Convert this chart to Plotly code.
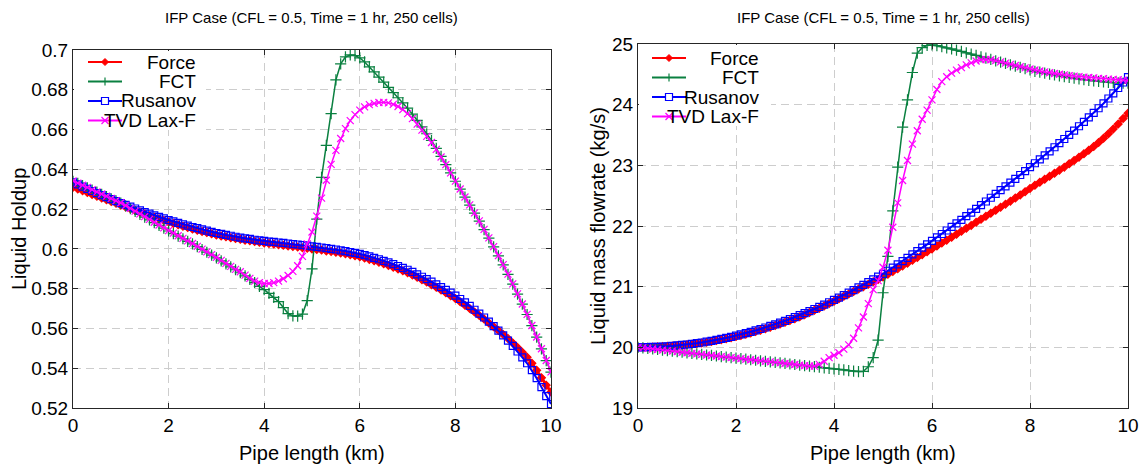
import plotly.graph_objects as go

# Pipe cell positions (km), 0.1 km spacing
x_km = [i / 10 for i in range(101)]

x_ticks = [0, 2, 4, 6, 8, 10]
hold_ticks = [0.52, 0.54, 0.56, 0.58, 0.60, 0.62, 0.64, 0.66, 0.68, 0.70]
hold_ticktext = ["0.52", "0.54", "0.56", "0.58", "0.6", "0.62", "0.64", "0.66", "0.68", "0.7"]
flow_ticks = [19, 20, 21, 22, 23, 24, 25]

series_names = ["Force", "FCT", "Rusanov", "TVD Lax-F"]

# ---- Liquid holdup (left panel) ----
hold_force = [
    0.6310, 0.6301, 0.6292, 0.6283, 0.6274, 0.6265, 0.6256, 0.6247, 0.6238, 0.6229,
    0.6220, 0.6211, 0.6202, 0.6193, 0.6184, 0.6175, 0.6167, 0.6159, 0.6151, 0.6143,
    0.6135, 0.6128, 0.6121, 0.6114, 0.6107, 0.6100, 0.6094, 0.6088, 0.6082, 0.6076,
    0.6070, 0.6065, 0.6061, 0.6056, 0.6052, 0.6048, 0.6044, 0.6041, 0.6037, 0.6034,
    0.6030, 0.6027, 0.6024, 0.6021, 0.6018, 0.6015, 0.6012, 0.6009, 0.6006, 0.6003,
    0.6000, 0.5997, 0.5994, 0.5990, 0.5987, 0.5983, 0.5979, 0.5975, 0.5970, 0.5965,
    0.5960, 0.5954, 0.5947, 0.5940, 0.5933, 0.5925, 0.5917, 0.5908, 0.5899, 0.5890,
    0.5880, 0.5869, 0.5857, 0.5845, 0.5833, 0.5820, 0.5807, 0.5793, 0.5779, 0.5765,
    0.5750, 0.5734, 0.5717, 0.5700, 0.5683, 0.5665, 0.5647, 0.5628, 0.5609, 0.5590,
    0.5570, 0.5549, 0.5527, 0.5504, 0.5480, 0.5455, 0.5425, 0.5390, 0.5352, 0.5315,
    0.5280,
]
hold_fct = [
    0.6340, 0.6329, 0.6318, 0.6307, 0.6296, 0.6285, 0.6274, 0.6263, 0.6252, 0.6241,
    0.6230, 0.6216, 0.6202, 0.6188, 0.6174, 0.6160, 0.6146, 0.6132, 0.6118, 0.6104,
    0.6090, 0.6077, 0.6064, 0.6051, 0.6038, 0.6025, 0.6011, 0.5997, 0.5983, 0.5969,
    0.5955, 0.5940, 0.5925, 0.5910, 0.5895, 0.5880, 0.5864, 0.5847, 0.5830, 0.5812,
    0.5795, 0.5776, 0.5756, 0.5735, 0.5705, 0.5675, 0.5663, 0.5662, 0.5672, 0.5740,
    0.5900, 0.6150, 0.6360, 0.6520, 0.6680, 0.6850, 0.6930, 0.6965, 0.6975, 0.6972,
    0.6960, 0.6940, 0.6915, 0.6890, 0.6864, 0.6838, 0.6812, 0.6786, 0.6760, 0.6734,
    0.6708, 0.6678, 0.6646, 0.6613, 0.6579, 0.6545, 0.6505, 0.6465, 0.6424, 0.6382,
    0.6340, 0.6300, 0.6260, 0.6220, 0.6180, 0.6140, 0.6097, 0.6054, 0.6010, 0.5965,
    0.5920, 0.5872, 0.5823, 0.5773, 0.5722, 0.5670, 0.5614, 0.5556, 0.5497, 0.5438,
    0.5380,
]
hold_rusanov = [
    0.6335, 0.6324, 0.6313, 0.6302, 0.6291, 0.6280, 0.6270, 0.6260, 0.6250, 0.6240,
    0.6230, 0.6221, 0.6212, 0.6203, 0.6194, 0.6185, 0.6177, 0.6169, 0.6161, 0.6153,
    0.6145, 0.6138, 0.6131, 0.6124, 0.6117, 0.6110, 0.6104, 0.6098, 0.6092, 0.6086,
    0.6080, 0.6075, 0.6070, 0.6066, 0.6061, 0.6057, 0.6053, 0.6050, 0.6046, 0.6043,
    0.6040, 0.6037, 0.6035, 0.6032, 0.6030, 0.6027, 0.6024, 0.6022, 0.6019, 0.6016,
    0.6013, 0.6010, 0.6007, 0.6004, 0.6000, 0.5997, 0.5993, 0.5989, 0.5984, 0.5980,
    0.5975, 0.5969, 0.5962, 0.5955, 0.5948, 0.5940, 0.5932, 0.5923, 0.5914, 0.5905,
    0.5895, 0.5884, 0.5872, 0.5860, 0.5848, 0.5835, 0.5822, 0.5808, 0.5794, 0.5780,
    0.5765, 0.5748, 0.5731, 0.5713, 0.5694, 0.5675, 0.5655, 0.5634, 0.5612, 0.5589,
    0.5565, 0.5539, 0.5512, 0.5484, 0.5455, 0.5425, 0.5390, 0.5350, 0.5305, 0.5260,
    0.5220,
]
hold_tvd = [
    0.6342, 0.6331, 0.6320, 0.6309, 0.6298, 0.6287, 0.6276, 0.6265, 0.6254, 0.6243,
    0.6232, 0.6218, 0.6204, 0.6190, 0.6176, 0.6162, 0.6148, 0.6134, 0.6120, 0.6106,
    0.6092, 0.6079, 0.6066, 0.6053, 0.6040, 0.6027, 0.6013, 0.5999, 0.5985, 0.5971,
    0.5957, 0.5942, 0.5927, 0.5912, 0.5897, 0.5885, 0.5868, 0.5852, 0.5838, 0.5830,
    0.5826, 0.5826, 0.5830, 0.5838, 0.5850, 0.5866, 0.5887, 0.5915, 0.5962, 0.6025,
    0.6085, 0.6165, 0.6255, 0.6345, 0.6425, 0.6495, 0.6555, 0.6605, 0.6645, 0.6675,
    0.6698, 0.6714, 0.6725, 0.6732, 0.6736, 0.6737, 0.6734, 0.6727, 0.6716, 0.6700,
    0.6680, 0.6655, 0.6627, 0.6597, 0.6566, 0.6535, 0.6500, 0.6462, 0.6424, 0.6382,
    0.6341, 0.6301, 0.6261, 0.6221, 0.6181, 0.6141, 0.6098, 0.6055, 0.6011, 0.5966,
    0.5921, 0.5873, 0.5824, 0.5774, 0.5723, 0.5671, 0.5615, 0.5557, 0.5498, 0.5439,
    0.5382,
]

# ---- Liquid mass flowrate (right panel) ----
flow_force = [
    20.000, 20.001, 20.003, 20.005, 20.008, 20.012, 20.016, 20.021, 20.028, 20.035,
    20.043, 20.052, 20.062, 20.073, 20.085, 20.098, 20.112, 20.127, 20.143, 20.160,
    20.178, 20.197, 20.217, 20.238, 20.260, 20.283, 20.307, 20.332, 20.358, 20.385,
    20.413, 20.442, 20.472, 20.503, 20.539, 20.575, 20.610, 20.646, 20.683, 20.721,
    20.760, 20.800, 20.840, 20.880, 20.920, 20.960, 21.000, 21.040, 21.080, 21.120,
    21.160, 21.205, 21.250, 21.296, 21.342, 21.388, 21.434, 21.481, 21.528, 21.575,
    21.622, 21.670, 21.718, 21.766, 21.814, 21.863, 21.912, 21.961, 22.010, 22.060,
    22.110, 22.160, 22.210, 22.260, 22.310, 22.360, 22.410, 22.460, 22.510, 22.565,
    22.620, 22.670, 22.720, 22.770, 22.820, 22.870, 22.920, 22.970, 23.025, 23.080,
    23.135, 23.190, 23.250, 23.310, 23.375, 23.445, 23.520, 23.600, 23.680, 23.770,
    23.860,
]
flow_fct = [
    20.000, 19.991, 19.982, 19.973, 19.964, 19.955, 19.946, 19.937, 19.928, 19.919,
    19.910, 19.901, 19.892, 19.883, 19.874, 19.866, 19.857, 19.848, 19.839, 19.830,
    19.822, 19.813, 19.804, 19.795, 19.787, 19.778, 19.769, 19.760, 19.752, 19.743,
    19.734, 19.725, 19.717, 19.708, 19.699, 19.690, 19.681, 19.672, 19.663, 19.654,
    19.645, 19.636, 19.627, 19.617, 19.607, 19.600, 19.605, 19.680, 19.830, 20.120,
    20.900, 21.500, 22.250, 22.970, 23.630, 24.080, 24.530, 24.850, 24.940, 24.975,
    24.985, 24.972, 24.955, 24.937, 24.918, 24.898, 24.877, 24.855, 24.833, 24.811,
    24.789, 24.767, 24.745, 24.723, 24.701, 24.679, 24.657, 24.635, 24.614, 24.593,
    24.572, 24.550, 24.535, 24.520, 24.505, 24.490, 24.476, 24.462, 24.449, 24.436,
    24.424, 24.413, 24.402, 24.392, 24.383, 24.375, 24.368, 24.362, 24.358, 24.356,
    24.355,
]
flow_rusanov = [
    20.000, 20.001, 20.003, 20.006, 20.009, 20.013, 20.018, 20.024, 20.031, 20.039,
    20.047, 20.057, 20.068, 20.080, 20.093, 20.107, 20.122, 20.138, 20.155, 20.173,
    20.192, 20.212, 20.233, 20.255, 20.278, 20.302, 20.327, 20.353, 20.380, 20.408,
    20.437, 20.467, 20.498, 20.530, 20.563, 20.597, 20.632, 20.668, 20.705, 20.743,
    20.782, 20.821, 20.861, 20.902, 20.944, 20.987, 21.030, 21.074, 21.119, 21.164,
    21.210, 21.262, 21.315, 21.368, 21.422, 21.476, 21.531, 21.586, 21.642, 21.698,
    21.754, 21.811, 21.868, 21.926, 21.984, 22.043, 22.102, 22.162, 22.222, 22.282,
    22.343, 22.404, 22.466, 22.528, 22.590, 22.652, 22.715, 22.778, 22.841, 22.905,
    22.969, 23.034, 23.099, 23.165, 23.231, 23.298, 23.366, 23.434, 23.503, 23.573,
    23.644, 23.716, 23.789, 23.864, 23.941, 24.020, 24.102, 24.187, 24.275, 24.365,
    24.455,
]
flow_tvd = [
    20.000, 19.991, 19.982, 19.973, 19.964, 19.955, 19.946, 19.937, 19.928, 19.919,
    19.910, 19.901, 19.892, 19.883, 19.874, 19.866, 19.857, 19.848, 19.839, 19.830,
    19.822, 19.813, 19.804, 19.795, 19.787, 19.778, 19.769, 19.760, 19.752, 19.743,
    19.734, 19.725, 19.717, 19.708, 19.699, 19.692, 19.690, 19.720, 19.770, 19.830,
    19.870, 19.910, 19.970, 20.040, 20.150, 20.320, 20.500, 20.720, 20.950, 21.100,
    21.320, 21.600, 21.980, 22.380, 22.750, 23.080, 23.350, 23.570, 23.760, 23.910,
    24.080, 24.250, 24.380, 24.460, 24.520, 24.570, 24.610, 24.655, 24.690, 24.720,
    24.740, 24.745, 24.740, 24.725, 24.705, 24.685, 24.665, 24.645, 24.625, 24.606,
    24.588, 24.571, 24.555, 24.540, 24.526, 24.513, 24.501, 24.490, 24.480, 24.471,
    24.463, 24.455, 24.448, 24.441, 24.434, 24.428, 24.422, 24.416, 24.410, 24.405,
    24.400,
]

title_text = "IFP Case (CFL = 0.5, Time = 1 hr, 250 cells)"
xlabel_text = "Pipe length (km)"
ylabel_left = "Liquid Holdup"
ylabel_right = "Liquid mass flowrate (kg/s)"

# ---- styling ----
W, H = 1142, 467
FONT = "Liberation Sans, Arial, sans-serif"
colors = ["#ff0000", "#0a8040", "#0000ff", "#ff00ff"]
symbols = ["diamond", "cross-thin-open", "square-open", "x-thin-open"]
msizes = [6, 8, 7, 7]
lwidths = [3.0, 1.5, 2.0, 1.5]

def px_x(p):
    return p / W

def px_y(p):
    return (H - p) / H

fig = go.Figure()

left_data = [hold_force, hold_fct, hold_rusanov, hold_tvd]
right_data = [flow_force, flow_fct, flow_rusanov, flow_tvd]

for axes_ids, data in ((("x", "y"), left_data), (("x2", "y2"), right_data)):
    for i, name in enumerate(series_names):
        fig.add_trace(go.Scatter(
            x=x_km, y=data[i], name=name, mode="lines+markers",
            xaxis=axes_ids[0], yaxis=axes_ids[1], showlegend=False,
            line=dict(color=colors[i], width=lwidths[i]),
            marker=dict(symbol=symbols[i], size=msizes[i], color=colors[i],
                        line=dict(color=colors[i], width=1.2)),
        ))

axis_common = dict(
    showline=True, linecolor="#262626", linewidth=1, mirror="ticks",
    ticks="inside", ticklen=5, tickcolor="#262626", automargin=False,
    showgrid=True, gridcolor="#cdcdcd", gridwidth=1, griddash="8px,5px",
    zeroline=False, tickfont=dict(family=FONT, size=19, color="#000000"),
)

L_left, L_right, top_l, bot = 73, 551, 50, 408
R_left, R_right, top_r = 638, 1128, 44

annotations = [
    dict(text=title_text, x=px_x((L_left + L_right) / 2), y=px_y(18), font=dict(size=15)),
    dict(text=title_text, x=px_x((R_left + R_right) / 2), y=px_y(18), font=dict(size=15)),
    dict(text=xlabel_text, x=px_x((L_left + L_right) / 2), y=px_y(453), font=dict(size=20)),
    dict(text=xlabel_text, x=px_x((R_left + R_right) / 2), y=px_y(453), font=dict(size=20)),
    dict(text=ylabel_left, x=px_x(19), y=px_y(229), textangle=-90, font=dict(size=20)),
    dict(text=ylabel_right, x=px_x(598), y=px_y(226), textangle=-90, font=dict(size=20)),
]
for a in annotations:
    a.update(xref="paper", yref="paper", showarrow=False, xanchor="center", yanchor="middle")

# ---- MATLAB-style legends (white box, line + marker swatch, right-aligned names) ----
shapes = []
def add_legend(ax_left, ax_top, box_w, box_h, row_y, line_x0, line_x1, text_right):
    shapes.append(dict(type="rect", xref="paper", yref="paper", layer="above",
                       x0=px_x(ax_left + 1), x1=px_x(ax_left + box_w),
                       y0=px_y(ax_top + 1), y1=px_y(ax_top + box_h),
                       fillcolor="white", line=dict(width=0)))
    for i, name in enumerate(series_names):
        yy = row_y[i]
        c = colors[i]
        shapes.append(dict(type="line", xref="paper", yref="paper", layer="above",
                           x0=px_x(line_x0), x1=px_x(line_x1), y0=px_y(yy), y1=px_y(yy),
                           line=dict(color=c, width=2)))
        xm = (line_x0 + line_x1) / 2
        if symbols[i] == "diamond":
            s = 3.5
            path = "M {} {} L {} {} L {} {} L {} {} Z".format(
                px_x(xm - s), px_y(yy), px_x(xm), px_y(yy - s),
                px_x(xm + s), px_y(yy), px_x(xm), px_y(yy + s))
            shapes.append(dict(type="path", xref="paper", yref="paper", layer="above",
                               path=path, fillcolor=c, line=dict(color=c, width=1)))
        elif symbols[i] == "cross-thin-open":
            s = 4
            shapes.append(dict(type="line", xref="paper", yref="paper", layer="above",
                               x0=px_x(xm), x1=px_x(xm), y0=px_y(yy - s), y1=px_y(yy + s),
                               line=dict(color=c, width=1.2)))
        elif symbols[i] == "square-open":
            s = 3.5
            shapes.append(dict(type="rect", xref="paper", yref="paper", layer="above",
                               x0=px_x(xm - s), x1=px_x(xm + s), y0=px_y(yy - s), y1=px_y(yy + s),
                               fillcolor="white", line=dict(color=c, width=1.2)))
        else:
            s = 3.5
            shapes.append(dict(type="line", xref="paper", yref="paper", layer="above",
                               x0=px_x(xm - s), x1=px_x(xm + s), y0=px_y(yy - s), y1=px_y(yy + s),
                               line=dict(color=c, width=1.2)))
            shapes.append(dict(type="line", xref="paper", yref="paper", layer="above",
                               x0=px_x(xm - s), x1=px_x(xm + s), y0=px_y(yy + s), y1=px_y(yy - s),
                               line=dict(color=c, width=1.2)))
        annotations.append(dict(text=name, xref="paper", yref="paper", showarrow=False,
                                x=px_x(text_right), y=px_y(yy), xanchor="right", yanchor="middle",
                                font=dict(size=19, color="#000000")))

add_legend(L_left, top_l, 133, 80, [62, 81.5, 101, 120.5], 88, 122, 198)
add_legend(R_left, top_r, 133, 82, [58, 77.5, 97, 116.5], 652, 686, 761)

fig.update_layout(
    width=W, height=H, margin=dict(l=0, r=0, t=0, b=0, autoexpand=False),
    paper_bgcolor="white", plot_bgcolor="white",
    font=dict(family=FONT, size=16, color="#000000"),
    showlegend=False,
    xaxis=dict(domain=[px_x(L_left), px_x(L_right)], range=[0, 10],
               tickvals=x_ticks, anchor="y", **axis_common),
    yaxis=dict(domain=[px_y(bot), px_y(top_l)], range=[0.52, 0.70],
               tickvals=hold_ticks, ticktext=hold_ticktext, anchor="x", **axis_common),
    xaxis2=dict(domain=[px_x(R_left), px_x(R_right)], range=[0, 10],
                tickvals=x_ticks, anchor="y2", **axis_common),
    yaxis2=dict(domain=[px_y(bot), px_y(top_r)], range=[19, 25],
                tickvals=flow_ticks, anchor="x2", **axis_common),
    annotations=annotations,
    shapes=shapes,
)

fig.write_html("out.html")
